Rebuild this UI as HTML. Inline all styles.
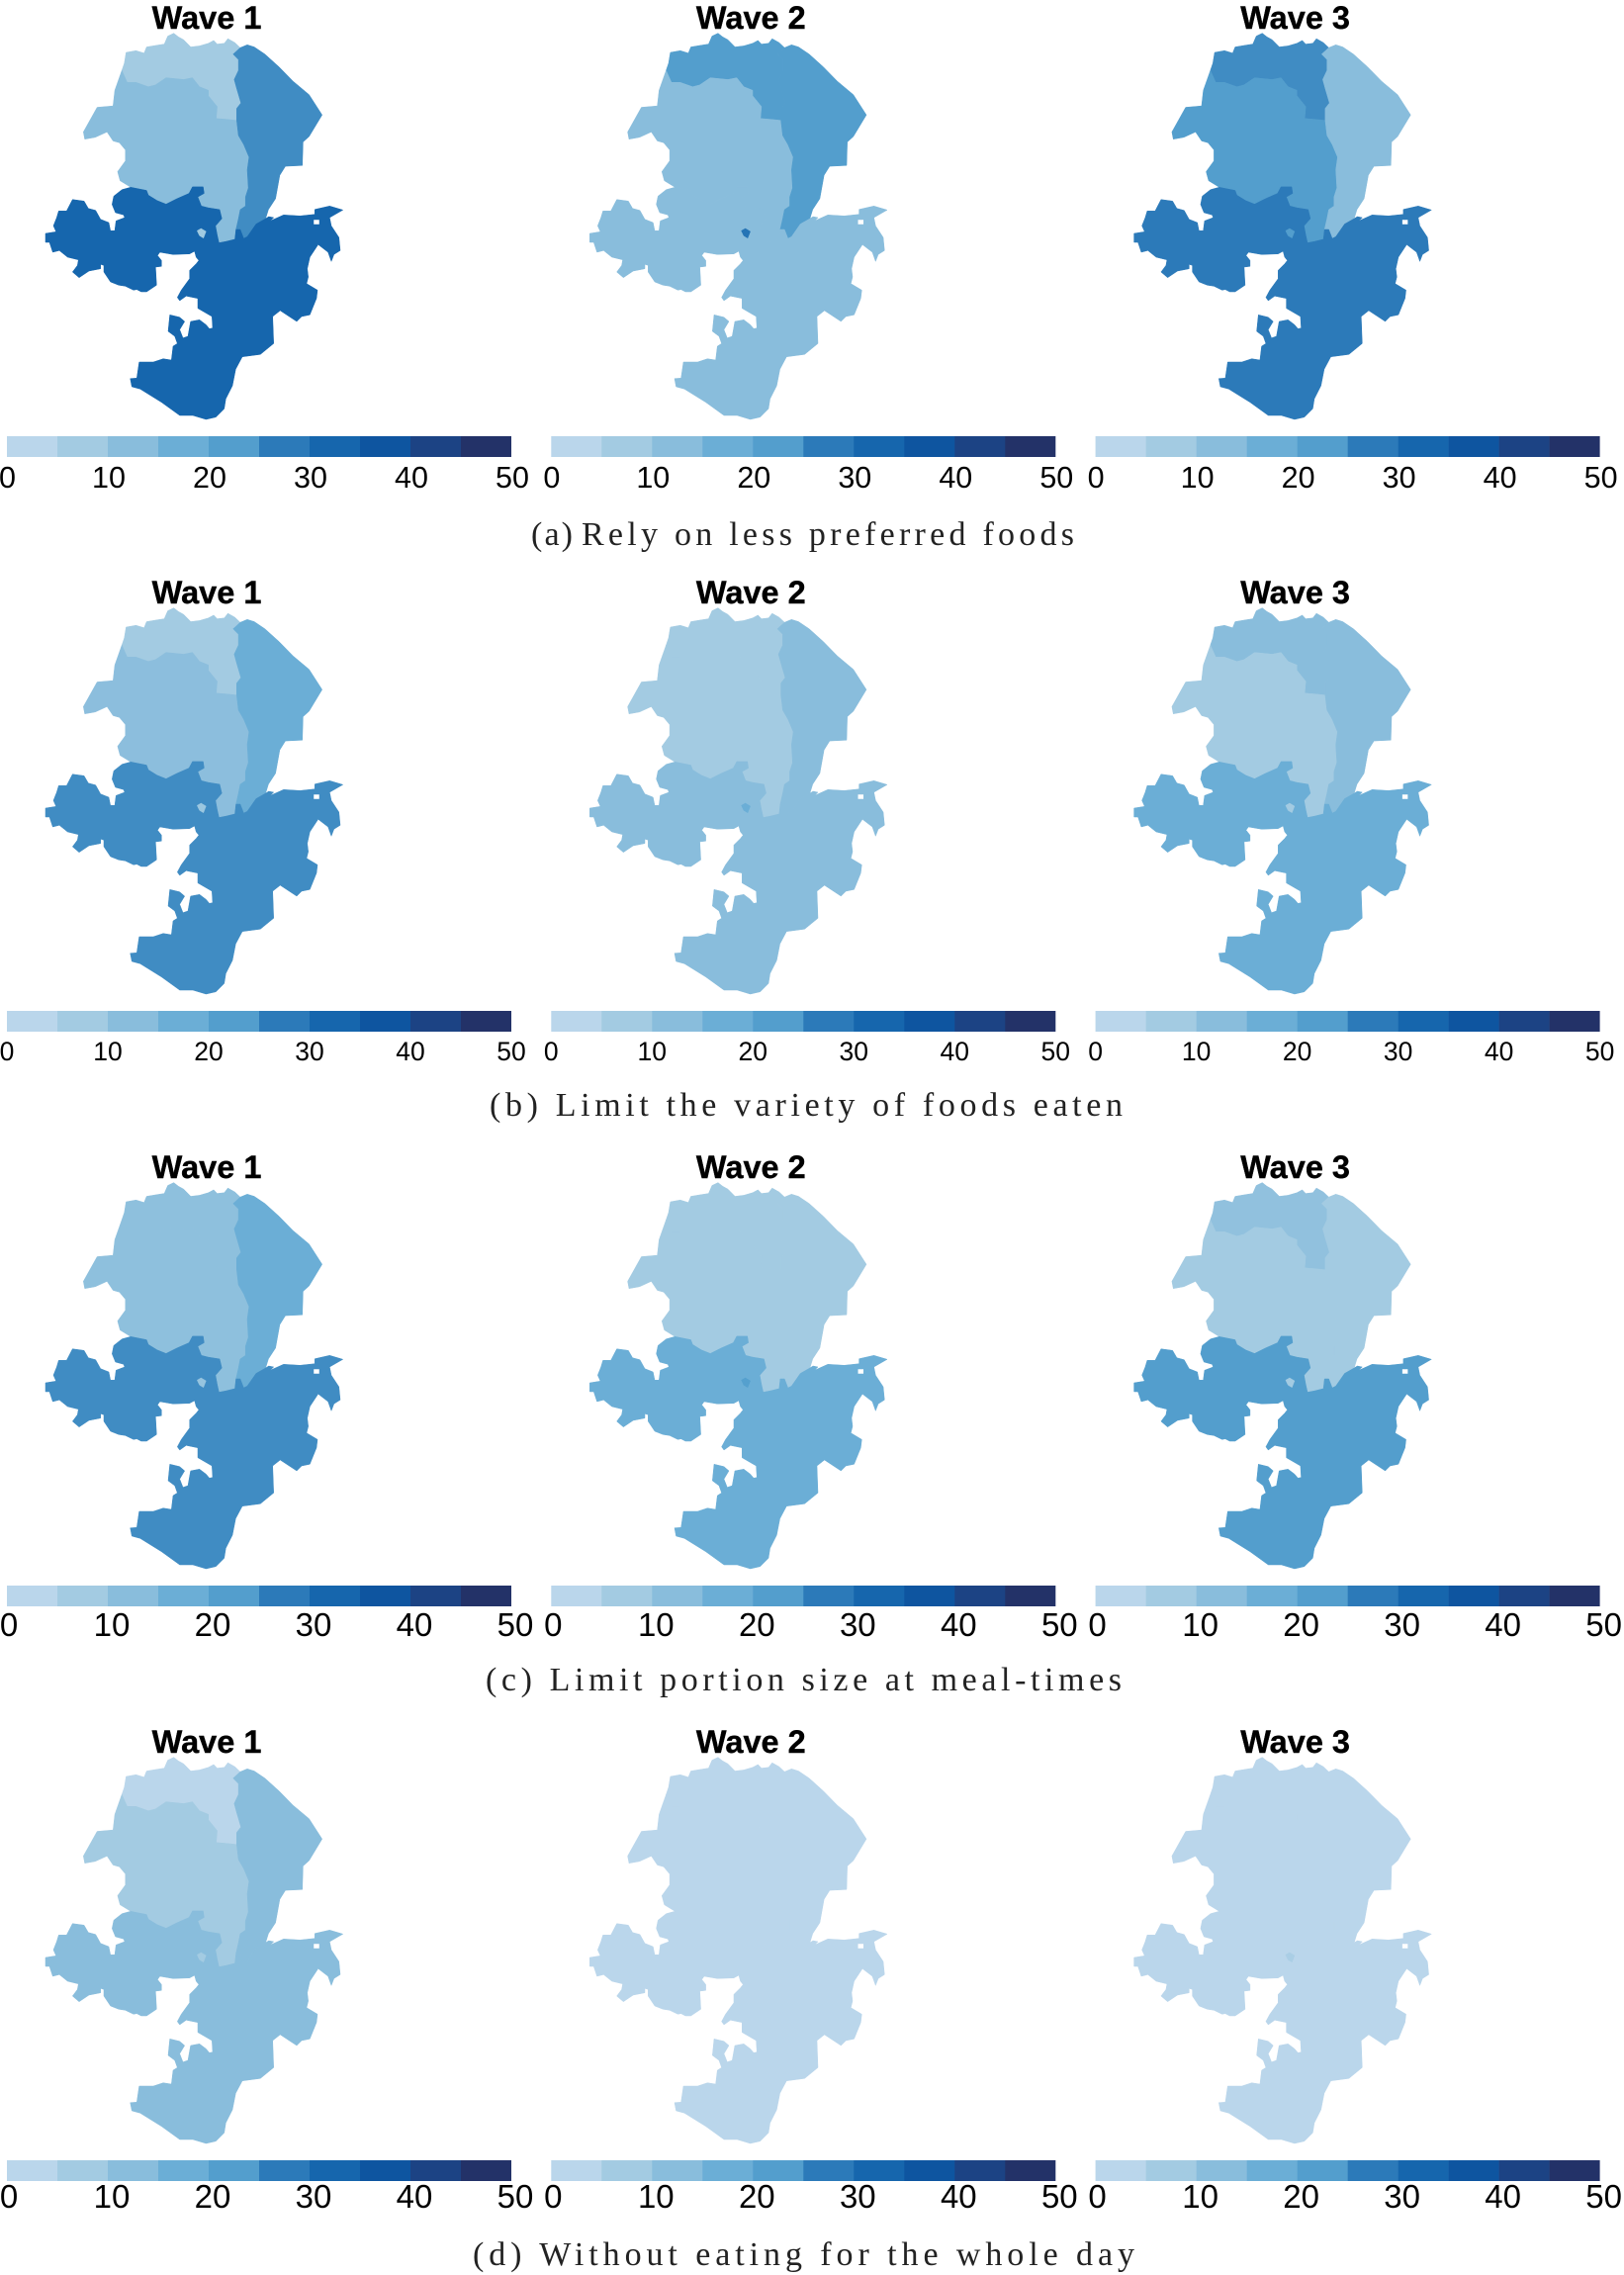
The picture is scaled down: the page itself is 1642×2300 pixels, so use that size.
<!DOCTYPE html>
<html lang="en">
<head>
<meta charset="utf-8">
<title>Food coping strategies by wave</title>
<style>
html,body{margin:0;padding:0;background:#fff;}
#figure{display:block;width:1642px;height:2300px;background:#fff;}
.title{font-family:"Liberation Sans",sans-serif;font-weight:700;font-size:32.5px;fill:#000;stroke:#000;stroke-width:0.4px;text-anchor:middle;}
.tick{font-family:"Liberation Sans",sans-serif;fill:#000;text-anchor:middle;}
.caption{font-family:"Liberation Serif",serif;font-size:34px;fill:#222;}
</style>
</head>
<body>
<svg id="figure" xmlns="http://www.w3.org/2000/svg" width="1642" height="2300" viewBox="0 0 1642 2300">
  <g id="panels"></g>
  <text class="caption" x="537" y="551" textLength="42" lengthAdjust="spacing">(a)</text>
  <text class="caption" x="588" y="551" textLength="498" lengthAdjust="spacing">Rely on less preferred foods</text>
  <text class="caption" x="495" y="1128" textLength="640" lengthAdjust="spacing">(b) Limit the variety of foods eaten</text>
  <text class="caption" x="491" y="1709" textLength="643" lengthAdjust="spacing">(c) Limit portion size at meal-times</text>
  <text class="caption" x="478" y="2290" textLength="669" lengthAdjust="spacing">(d) Without eating for the whole day</text>
</svg>
<script>
/* ---------- chart data ---------- */
const waves = ['Wave 1', 'Wave 2', 'Wave 3'];
const rowKeys = ['rely', 'variety', 'portion', 'noeat'];
const regionNames = ['north', 'central', 'east', 'south', 'enclave'];
const legendTicks = [0, 10, 20, 30, 40, 50];
const legendBins = [0, 5, 10, 15, 20, 25, 30, 35, 40, 45];
const binColors = ['#bad6eb', '#a3cbe2', '#89bddc', '#6baed6', '#539ecd', '#2c7ab9', '#1666ad', '#0e55a0', '#1c4384', '#233268'];
/* percent of households per region, one row per wave: north, central, east, south, enclave */
const relyValues = [[7.5, 12.5, 25, 32.5, 8], [22.5, 12.5, 22.5, 12.5, 29], [25, 22.5, 12.5, 27.5, 22.5]];
const varietyValues = [[7.5, 12, 17.5, 25, 9], [7.5, 7.5, 12.5, 12.5, 17.5], [12.5, 7.5, 12.5, 17.5, 7.5]];
const portionValues = [[11.5, 11.5, 17.5, 25, 10], [7.5, 7.5, 7.5, 17.5, 22], [11, 7.5, 7.5, 22.5, 7.5]];
const noEatValues = [[2.5, 7.5, 12.5, 12.5, 7.5], [2.5, 2.5, 2.5, 2.5, 2.5], [2.5, 2.5, 2.5, 2.5, 6]];
const rowValues = [relyValues, varietyValues, portionValues, noEatValues];

/* ---------- map geometry (traced outlines, shared by all panels) ---------- */
const traceScaleX = 2.8;
const traceScaleY = 2.737;
const shapeNorth = [[357,145],[385,140],[408,147],[415,130],[445,125],[465,122],[475,100],[492,92],[505,102],[520,110],[540,130],[565,127],[590,120],[605,112],[615,122],[635,120],[645,107],[665,118],[680,132],[660,150],[675,165],[675,195],[663,220],[670,245],[682,285],[670,300],[670,333],[640,330],[612,328],[615,295],[590,265],[590,250],[565,240],[545,215],[520,220],[470,215],[440,235],[420,240],[385,228],[360,228],[345,195],[352,175]];
const shapeCentral = [[345,195],[360,228],[385,228],[420,240],[440,235],[470,215],[520,220],[545,215],[565,240],[590,250],[590,265],[615,295],[612,328],[640,330],[670,333],[675,375],[690,400],[705,435],[700,470],[703,520],[695,545],[695,570],[680,580],[675,605],[668,635],[665,662],[640,668],[620,672],[615,650],[610,625],[628,605],[622,580],[590,575],[570,570],[560,545],[578,535],[575,517],[545,517],[535,535],[500,550],[470,565],[445,555],[420,540],[415,527],[370,518],[340,500],[333,475],[355,445],[355,415],[338,395],[320,390],[303,365],[270,380],[240,385],[236,365],[275,297],[320,293],[325,250]];
const shapeEast = [[680,132],[700,124],[720,130],[750,150],[790,185],[830,225],[875,262],[912,318],[875,378],[858,393],[856,458],[808,460],[792,485],[780,550],[760,580],[752,605],[725,620],[700,655],[690,660],[680,635],[668,635],[675,605],[680,580],[695,570],[695,545],[703,520],[700,470],[705,435],[690,400],[675,375],[670,333],[670,300],[682,285],[670,245],[663,220],[675,195],[675,165],[660,150]];
const shapeSouthPx = [[46,236],[56.7,234.3],[54,228.3],[57.3,220],[59.3,213.3],[67.3,213.3],[73.3,201.7],[85,203.3],[89.3,210.7],[96.7,212.7],[101.7,221.7],[110,225],[111.7,233.3],[116,233.3],[117.3,223.3],[126,220],[125,217.3],[116.7,215],[113.3,206.7],[115,198.3],[123.3,191.7],[132.1,189.3],[148.2,192.5],[150,197.3],[158.9,202.8],[167.9,206.4],[178.6,201],[191.1,195.5],[194.6,188.9],[205.4,188.9],[206.4,195.5],[200,199.1],[203.6,208.3],[210.7,210.1],[222.1,211.9],[224.3,221],[217.9,228.4],[219.6,237.5],[221.4,245.5],[228.6,244.1],[237.5,241.9],[238.6,232],[242.9,232],[246.4,241.1],[250,239.3],[258.9,226.5],[268.6,221],[271.7,219],[276.7,220],[273.3,223.3],[286.7,217.3],[303.3,218.3],[318.3,216.7],[318.3,211.7],[333.3,208.3],[346.7,212.3],[333.3,220],[335,228.3],[342.7,240],[344,253.3],[337.7,257.3],[335,264.3],[331.7,255],[321.7,247.3],[313.3,260],[310.7,271.7],[311.7,280],[310,286.7],[321,293.3],[320,301.7],[313.3,318.3],[305,320],[300,325],[283.3,314],[275.7,320],[276.7,347.3],[263.3,358.3],[245,360.7],[238.3,373.3],[235,390],[228.3,403.3],[226.7,413.3],[218.3,421.7],[208.3,424],[195,420],[181.7,420],[163.3,406.7],[141.7,393.3],[133.3,391],[131.7,382.7],[138.3,382.3],[140.7,366],[155,366],[165,362.7],[173.3,364],[175,350],[179.3,347.3],[176.7,340],[170,335],[171.7,318.3],[181.7,320.7],[186.7,325],[181.7,333.3],[185,341.7],[190,340],[192.7,325],[201.7,323.3],[208.3,328.3],[211.7,332.3],[215,331.7],[214.3,320],[200,311.7],[200,301.7],[188.3,299.3],[181.7,304],[179.3,300.7],[183.3,293.3],[191.7,281.7],[191.7,273.3],[198.3,266.7],[201,263.3],[198.3,260],[196.7,254],[191.7,256.7],[175,257.3],[161.7,255],[159.3,258.3],[163.3,263.3],[163.3,269.3],[157.3,270],[158.3,288.3],[148.3,295],[142.7,295],[138.3,292.7],[135,293.3],[126.7,289.3],[120,288.3],[111.7,285],[105,275],[105,268.3],[101.7,267.3],[101.7,271.7],[90,274],[80,280.7],[73.3,275],[78.3,268.3],[79.3,262.7],[68.3,260],[60,253.3],[53.3,255],[50,245],[46,245]];
const shapeSouthHolePx = [[317,222],[323,222],[323,227],[317,227]];
const shapeEnclavePx = [[199.3,233.3],[203.3,231],[208.3,234],[205.7,240.7],[201.7,238.3]];

/* ---------- layout and scales ---------- */
const panelStepX = 550.3;
const rowStepY = 581;
const barLeft = 7;
const barWidth = 510;
const barTop = 441;
const barHeight = 21;
const domainMax = 50;
const tickStyle = [
  { size: 30.5, baseline: 493, shift: 0.5 },
  { size: 26.5, baseline: 491, shift: 0 },
  { size: 33, baseline: 492, shift: 2 },
  { size: 33, baseline: 489, shift: 2 }
];

function xScale(v) { return barLeft + v / domainMax * barWidth; }
function hex(s) { return [1, 3, 5].map(k => parseInt(s.substr(k, 2), 16)); }
function colorScale(v) {
  const pos = v / 5 - 0.5;
  const a = Math.max(0, Math.min(binColors.length - 1, Math.floor(pos)));
  const b = Math.min(binColors.length - 1, a + 1);
  const t = Math.max(0, Math.min(1, pos - a));
  const ca = hex(binColors[a]), cb = hex(binColors[b]);
  return 'rgb(' + ca.map((c, k) => Math.round(c + (cb[k] - c) * t)).join(',') + ')';
}
function outline(pts, sx, sy) {
  return 'M' + pts.map(p => (p[0] / sx).toFixed(1) + ' ' + (p[1] / sy).toFixed(1)).join('L') + 'Z';
}
const regionPaths = [
  outline(shapeNorth, traceScaleX, traceScaleY),
  outline(shapeCentral, traceScaleX, traceScaleY),
  outline(shapeEast, traceScaleX, traceScaleY),
  outline(shapeSouthPx, 1, 1) + outline(shapeSouthHolePx, 1, 1),
  outline(shapeEnclavePx, 1, 1)
];
const NS = 'http://www.w3.org/2000/svg';
const root = document.getElementById('panels');

rowValues.forEach((waveRows, r) => {
  waveRows.forEach((vals, w) => {
    const g = document.createElementNS(NS, 'g');
    
    
    g.setAttribute('transform', 'translate(' + (w * panelStepX) + ',' + (r * rowStepY) + ')');
    root.appendChild(g);

    const title = document.createElementNS(NS, 'text');
    
    
    title.setAttribute('class', 'title');
    title.setAttribute('x', 209);
    title.setAttribute('y', 29);
    title.textContent = waves[w];
    g.appendChild(title);

    regionNames.forEach((name, k) => {
      const path = document.createElementNS(NS, 'path');
      
      
      path.setAttribute('d', regionPaths[k]);
      path.setAttribute('fill', colorScale(vals[k]));
      path.setAttribute('fill-rule', 'evenodd');
      path.setAttribute('stroke', colorScale(vals[k]));
      path.setAttribute('stroke-width', '0.5');
      g.appendChild(path);
    });

    legendBins.forEach((start, b) => {
      const rect = document.createElementNS(NS, 'rect');
      
      
      rect.setAttribute('x', xScale(start));
      rect.setAttribute('y', barTop);
      rect.setAttribute('width', xScale(start + 5) - xScale(start) + (b < legendBins.length - 1 ? 0.3 : 0));
      rect.setAttribute('height', barHeight);
      rect.setAttribute('fill', binColors[b]);
      g.appendChild(rect);
    });

    legendTicks.forEach(t => {
      const label = document.createElementNS(NS, 'text');
      const st = tickStyle[r];
      
      
      label.setAttribute('class', 'tick');
      label.setAttribute('x', xScale(t) + st.shift * String(t).length);
      label.setAttribute('y', st.baseline);
      label.setAttribute('font-size', st.size);
      label.textContent = String(t);
      g.appendChild(label);
    });
  });
});
</script>
</body>
</html>
